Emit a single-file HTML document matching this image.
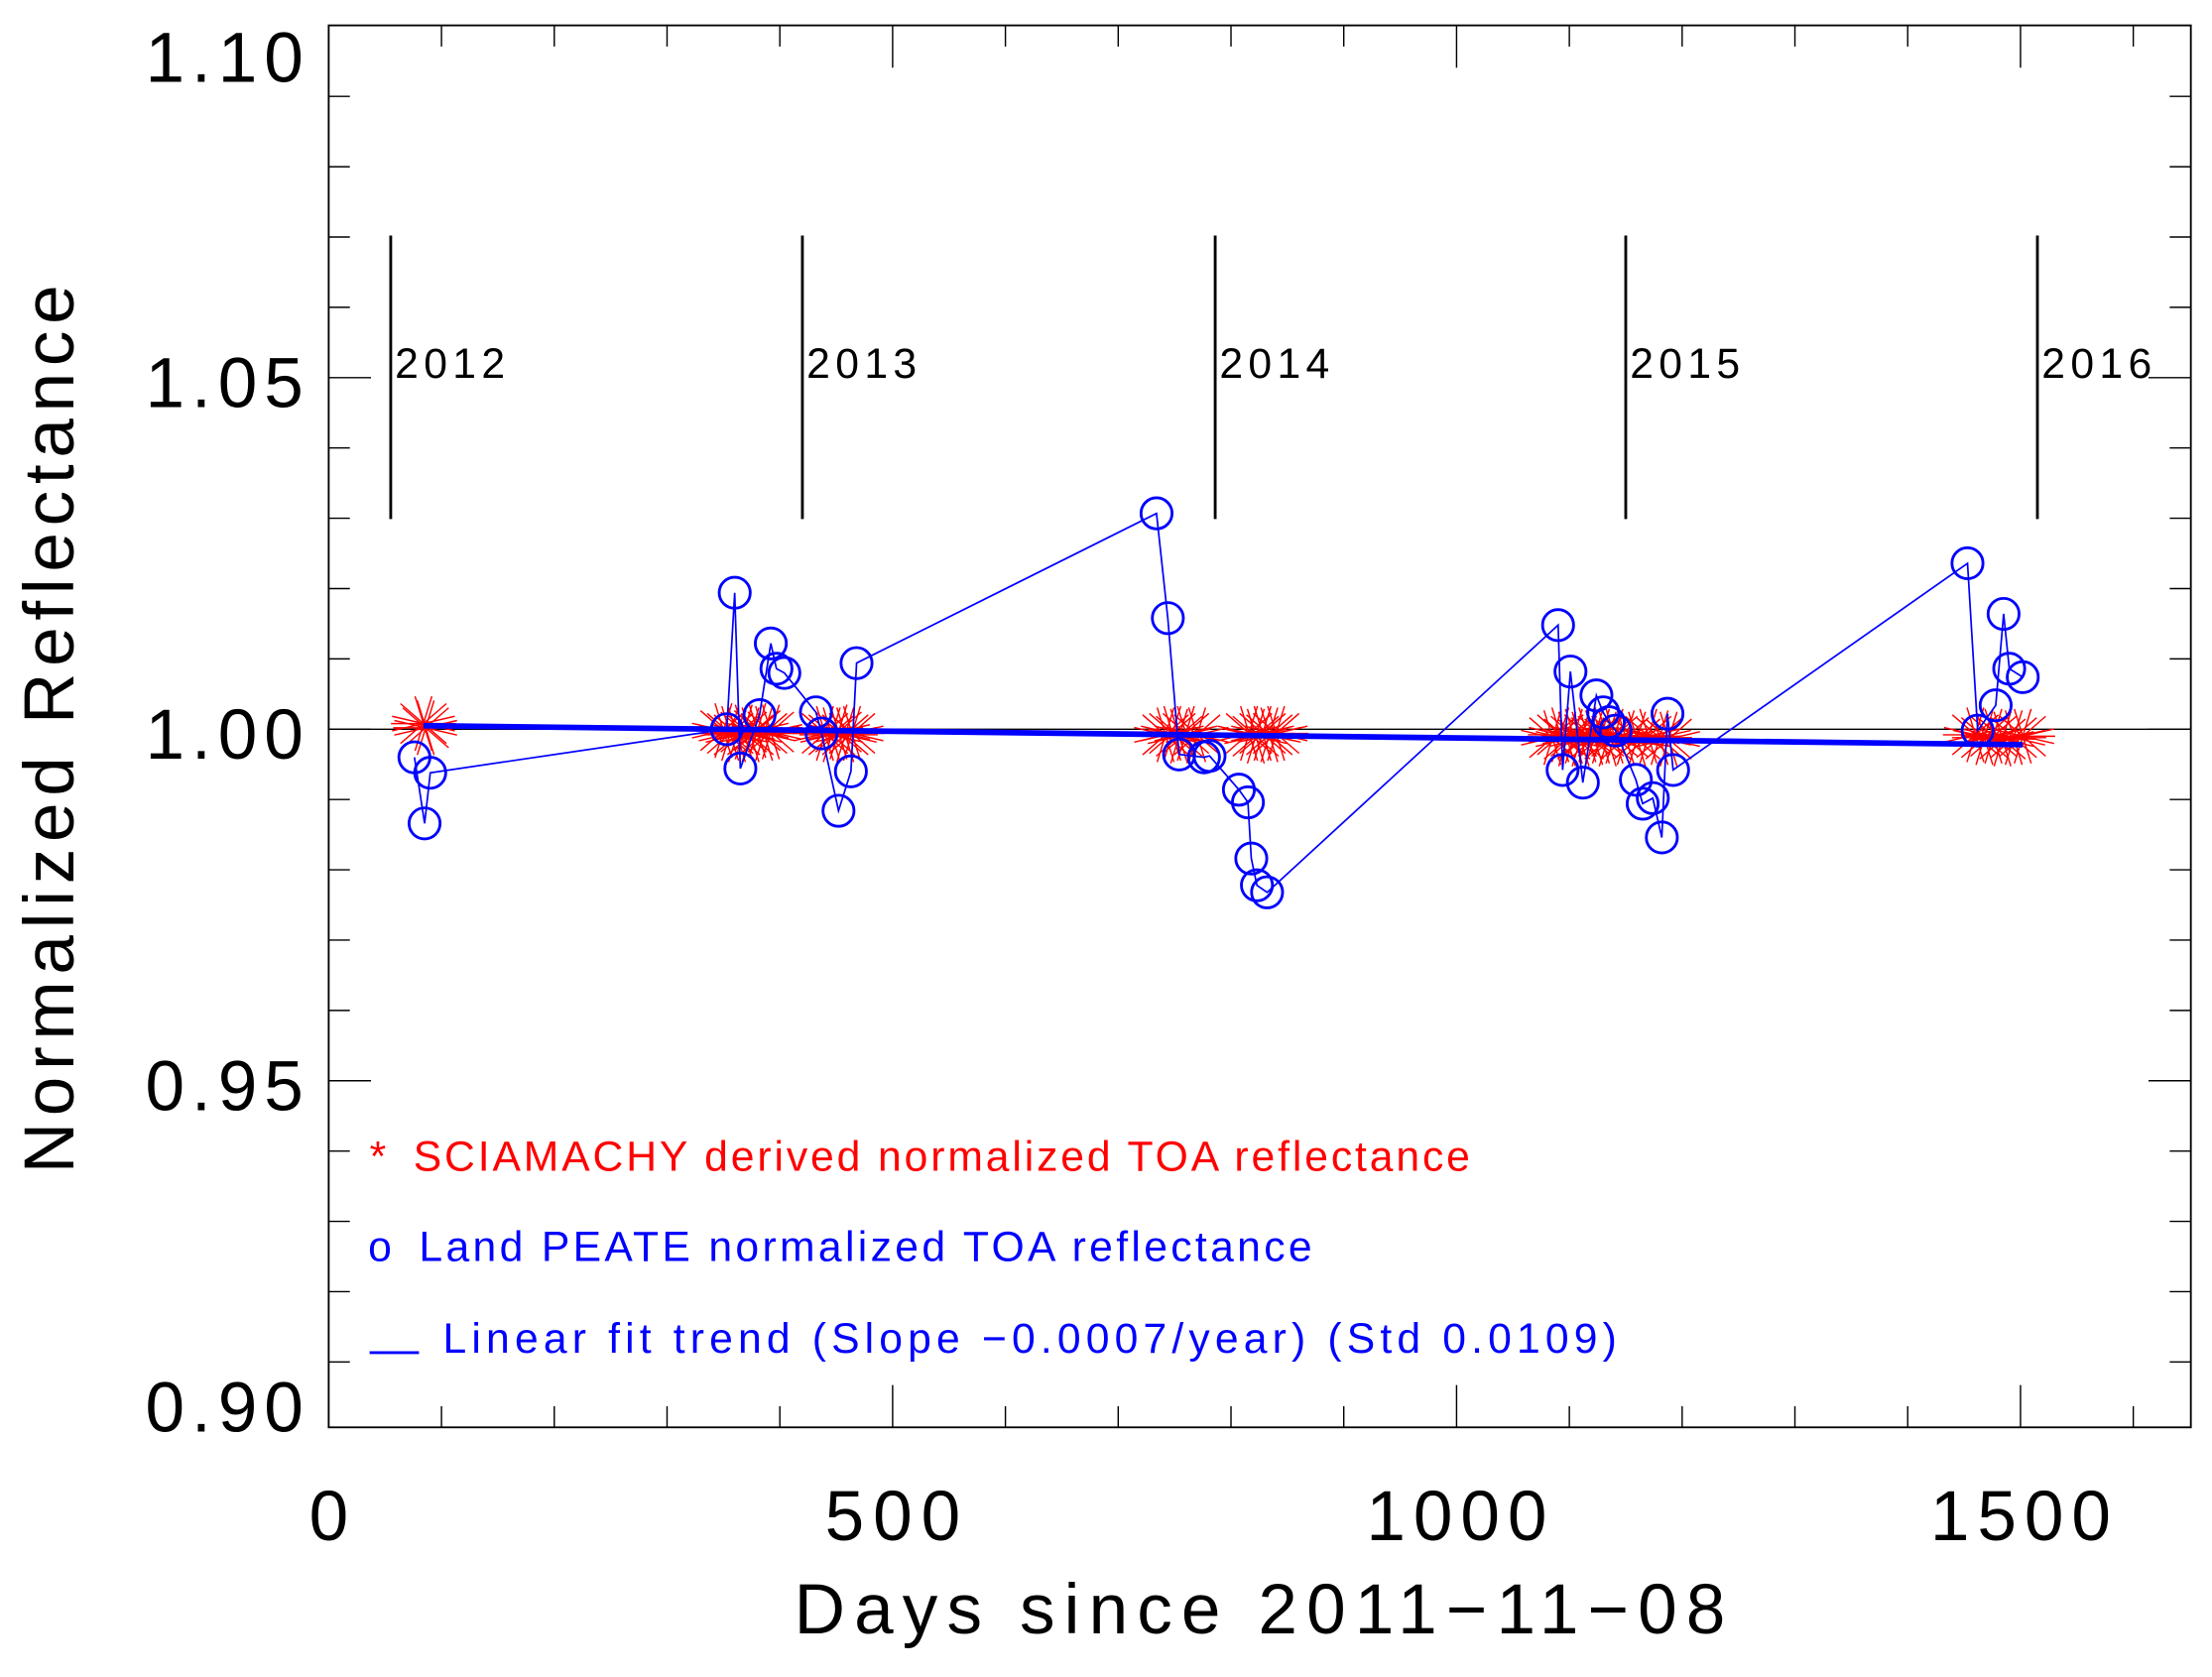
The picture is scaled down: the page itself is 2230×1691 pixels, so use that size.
<!DOCTYPE html>
<html><head><meta charset="utf-8"><style>
html,body{margin:0;padding:0;background:#fff}
svg{display:block}
text{font-family:"Liberation Sans",sans-serif}
</style></head><body>
<svg id="chart" width="2230" height="1691" viewBox="0 0 1568 1189" preserveAspectRatio="none" xmlns="http://www.w3.org/2000/svg">
<rect x="0" y="0" width="1568" height="1189" fill="#fff"/>
<g id="axes"></g>
<g id="marks"></g>
</svg>
<script>
const blueDays=[76,85,90,353,360,365,382,392,397,404,432,437,452,463,468,734,744,754,776,781,807,815,818,823,832,1090,1094,1101,1112,1124,1130,1135,1141,1159,1165,1174,1182,1187,1192,1453,1462,1478,1485,1490,1502];
const blueVals=[0.996,0.9866,0.9938,1.000,1.0194,0.9944,1.002,1.0122,1.0086,1.008,1.0024,0.9994,0.9884,0.994,1.0094,1.0307,1.0158,0.9964,0.996,0.9962,0.9914,0.9896,0.9816,0.9778,0.9768,1.0148,0.9942,1.0082,0.9924,1.0048,1.0024,1.001,0.9998,0.9928,0.9894,0.9902,0.9846,1.0022,0.9942,1.0236,0.9998,1.0034,1.0164,1.0086,1.0074];
const redDays=[84,86,350,356,362,368,374,380,386,392,440,446,452,458,464,742,748,754,760,770,816,822,828,834,840,1085,1092,1098,1104,1110,1116,1122,1128,1134,1140,1150,1160,1170,1180,1188,1460,1468,1476,1484,1494,1502];
const redVals=[1.0008,1.0002,0.9998,0.9994,0.9992,0.9996,0.9992,0.9998,0.9994,0.9996,0.9994,0.9992,0.9996,0.9992,0.9994,0.9992,0.9994,0.999,0.9994,0.9992,0.9994,0.999,0.9994,0.9992,0.9994,0.9988,0.9992,0.9986,0.999,0.9986,0.9992,0.9988,0.999,0.9986,0.999,0.9988,0.9986,0.999,0.9988,0.9986,0.9992,0.9988,0.999,0.9986,0.9988,0.999];
const fitDays=[84,1502];
const fitVals=[1.0005,0.9978];
const yearDays=[55,420,786,1150,1515];
const yearLabels=["2012","2013","2014","2015","2016"];
const xTickVals=[0,500,1000,1500];
const xTickLabels=["0","500","1000","1500"];
const yTickVals=[0.90,0.95,1.00,1.05,1.10];
const yTickLabels=["0.90","0.95","1.00","1.05","1.10"];

const L=233,R=1553,T=18,B=1012;
const xs=d=>L+d*(1032-232.5)/1000;
const ys=v=>517-(v-1)*4985;
const NS="http://www.w3.org/2000/svg";
function mk(tag,attrs,parent){const e=document.createElementNS(NS,tag);for(const k in attrs)e.setAttribute(k,attrs[k]);parent.appendChild(e);return e;}
const ax=document.getElementById('axes'),mg=document.getElementById('marks');

let e=mk('rect',{x:L,y:T,width:R-L,height:B-T,fill:'none',stroke:'#000','stroke-width':1.3},ax);


for(let d=100;d<=1600;d+=100){const x=xs(d);const len=d%500===0?30:15;
 mk('line',{x1:x,y1:B,x2:x,y2:B-len,stroke:'#000','stroke-width':1},ax);
 mk('line',{x1:x,y1:T,x2:x,y2:T+len,stroke:'#000','stroke-width':1},ax);}
for(let v=0.91;v<1.0999;v+=0.01){const y=ys(v);const maj=Math.abs(Math.round(v*100)%5)===0;const len=maj?30:15;
 mk('line',{x1:L,y1:y,x2:L+len,y2:y,stroke:'#000','stroke-width':1},ax);
 mk('line',{x1:R,y1:y,x2:R-len,y2:y,stroke:'#000','stroke-width':1},ax);}
xTickVals.forEach((v,i)=>{const t=mk('text',{x:xs(v),y:1092,'font-size':50,'text-anchor':'middle',textLength:32*xTickLabels[i].length},ax);t.textContent=xTickLabels[i];
 
 });
yTickVals.forEach((v,i)=>{const y=Math.min(Math.max(ys(v)+3,40),997);const t=mk('text',{x:215,y:y+18,'font-size':50,'text-anchor':'end',textLength:112},ax);t.textContent=yTickLabels[i];
 
 });
let t=mk('text',{x:893,y:1158,'font-size':50,'text-anchor':'middle',textLength:660},ax);t.textContent="Days since 2011−11−08";


t=mk('text',{x:0,y:0,'font-size':50,'text-anchor':'middle',textLength:630,transform:'translate(52,517) rotate(-90)'},ax);t.textContent="Normalized Reflectance";


e=mk('line',{x1:L,y1:ys(1),x2:R,y2:ys(1),stroke:'#000','stroke-width':1},ax);


yearDays.forEach((d,i)=>{const x=xs(d);
 const l=mk('line',{x1:x,y1:167,x2:x,y2:368,stroke:'#000','stroke-width':2},ax);
 
 
 const tt=mk('text',{x:x+3,y:268,'font-size':30,textLength:78},ax);tt.textContent=yearLabels[i];
 
 });
function star(cx,cy,g,col){for(let a=0;a<6;a++){const an=a*Math.PI/6+Math.PI/12;const dx=23*Math.cos(an),dy=20*Math.sin(an);
 mk('line',{x1:cx-dx,y1:cy-dy,x2:cx+dx,y2:cy+dy,stroke:col,'stroke-width':1},g);}
 mk('line',{x1:cx-23,y1:cy,x2:cx+23,y2:cy,stroke:col,'stroke-width':1},g);}
redDays.forEach((d,i)=>{const g=mk('g',{},mg);
 
 
 star(xs(d),ys(redVals[i]),g,'#f00');});
const pts=blueDays.map((d,i)=>xs(d).toFixed(1)+','+ys(blueVals[i]).toFixed(1)).join(' ');
e=mk('polyline',{points:pts,fill:'none',stroke:'#00f','stroke-width':1.2},mg);


blueDays.forEach((d,i)=>{const c=mk('ellipse',{cx:xs(d),cy:ys(blueVals[i]),rx:11,ry:11,fill:'none',stroke:'#00f','stroke-width':2},mg);
 
 });
e=mk('line',{x1:xs(fitDays[0]),y1:ys(fitVals[0]),x2:xs(fitDays[1]),y2:ys(fitVals[1]),stroke:'#00f','stroke-width':4},mg);


t=mk('text',{x:262,y:830,'font-size':30,fill:'#f00'},ax);t.textContent="*";


t=mk('text',{x:293,y:830,'font-size':30,fill:'#f00',textLength:749},ax);t.textContent="SCIAMACHY derived normalized TOA reflectance";


t=mk('text',{x:261,y:894,'font-size':30,fill:'#00f'},ax);t.textContent="o";


t=mk('text',{x:297,y:894,'font-size':30,fill:'#00f',textLength:633},ax);t.textContent="Land PEATE normalized TOA reflectance";


e=mk('line',{x1:262,y1:959,x2:297,y2:959,stroke:'#00f','stroke-width':2},ax);


t=mk('text',{x:314,y:959,'font-size':30,fill:'#00f',textLength:832},ax);t.textContent="Linear fit trend (Slope −0.0007/year) (Std 0.0109)";


</script>
</body></html>
